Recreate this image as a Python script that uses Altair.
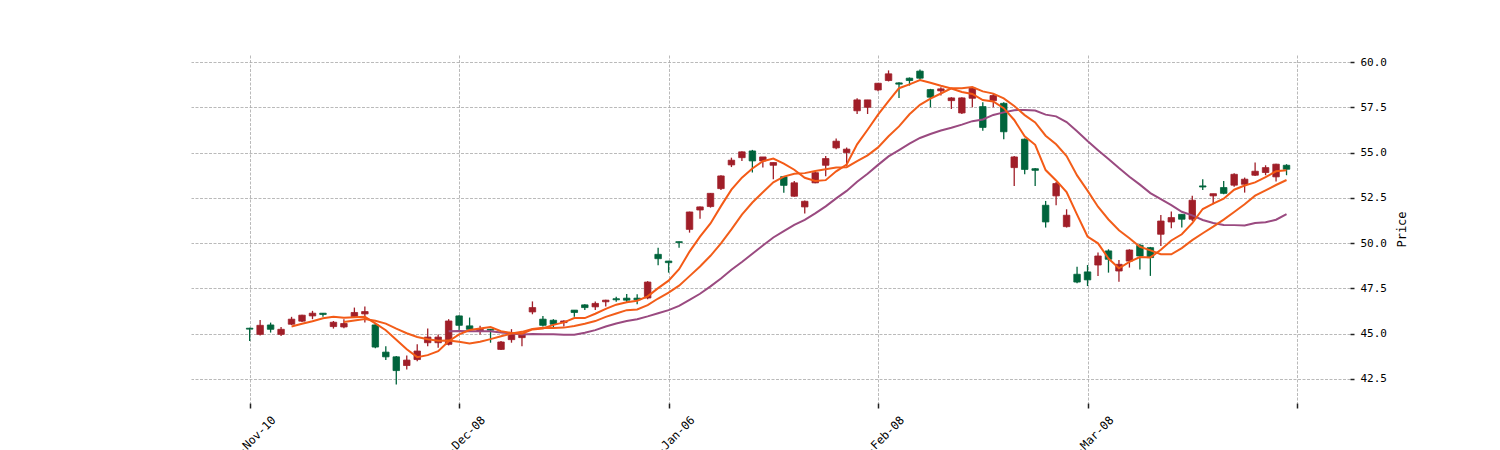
import altair as alt
import pandas as pd

opens = [45.30, 44.96, 45.48, 44.96, 45.52, 45.69, 45.98, 46.13, 45.39, 45.37,
         45.94, 46.09, 45.48, 43.98, 43.72, 43.24, 43.57, 44.50, 44.50, 44.41,
         45.98, 45.43, 45.13, 45.24, 44.13, 44.67, 44.78, 46.20, 45.80, 45.74,
         45.61, 46.30, 46.59, 46.48, 46.76, 46.93, 46.96, 46.96, 46.97, 49.38,
         49.01, 50.08, 50.76, 51.83, 52.02, 53.01, 54.32, 54.72, 55.09, 54.54,
         54.30, 53.67, 52.59, 52.00, 53.33, 54.30, 55.26, 55.00, 57.31, 57.50,
         58.46, 58.98, 58.85, 59.11, 59.50, 58.48, 58.41, 57.87, 57.19, 58.00,
         57.54, 57.87, 57.72, 54.17, 55.74, 54.11, 52.09, 52.61, 50.91, 48.28,
         48.41, 48.79, 49.57, 48.46, 49.01, 49.88, 49.75, 50.49, 51.17, 51.59,
         51.32, 53.16, 52.61, 53.07, 53.20, 53.25, 53.75, 53.90, 53.66, 54.30]
highs = [45.32, 45.76, 45.61, 45.37, 45.93, 46.04, 46.26, 46.14, 45.70, 45.80,
         46.44, 46.50, 45.55, 44.31, 43.76, 43.80, 44.41, 45.28, 44.96, 45.80,
         46.02, 45.89, 45.43, 45.26, 44.59, 45.25, 45.05, 46.78, 45.98, 45.80,
         45.74, 46.31, 46.63, 46.78, 46.87, 47.04, 47.19, 47.17, 47.90, 49.75,
         49.02, 50.09, 51.74, 52.02, 52.77, 53.75, 54.72, 55.07, 55.15, 54.76,
         54.45, 53.70, 53.43, 52.35, 53.93, 54.81, 55.78, 55.28, 58.00, 57.91,
         58.85, 59.54, 58.89, 59.15, 59.59, 58.52, 58.61, 58.06, 58.06, 58.61,
         57.78, 58.24, 57.78, 54.81, 55.78, 54.15, 52.33, 53.38, 51.87, 48.70,
         48.79, 49.48, 49.66, 49.07, 49.66, 49.97, 49.79, 51.56, 51.74, 51.59,
         52.61, 53.53, 52.73, 53.43, 53.86, 53.62, 54.45, 54.30, 54.39, 54.36]
lows = [44.60, 44.90, 45.06, 44.87, 45.48, 45.65, 45.80, 45.93, 45.28, 45.30,
        45.89, 45.61, 44.20, 43.54, 42.19, 43.02, 43.48, 44.31, 44.22, 44.35,
        45.20, 45.09, 44.96, 44.50, 44.10, 44.50, 44.31, 46.07, 45.39, 45.28,
        45.39, 45.93, 46.30, 46.31, 46.50, 46.76, 46.72, 46.63, 46.90, 48.78,
        48.37, 49.75, 50.58, 51.35, 51.96, 52.94, 54.20, 54.54, 53.90, 54.17,
        53.53, 52.78, 52.56, 51.63, 53.30, 53.70, 55.19, 54.26, 57.13, 57.13,
        58.39, 58.93, 58.02, 58.70, 59.04, 57.50, 58.15, 57.41, 57.13, 57.50,
        56.20, 57.50, 55.74, 53.15, 53.80, 53.15, 50.86, 52.09, 50.86, 47.78,
        47.63, 48.19, 48.37, 47.87, 48.65, 48.55, 48.19, 49.84, 50.82, 50.86,
        51.22, 52.94, 52.15, 52.70, 53.12, 52.79, 53.71, 53.75, 53.40, 53.75]
closes = [45.25, 45.46, 45.24, 45.24, 45.80, 46.02, 46.13, 46.06, 45.63, 45.56,
          46.17, 46.22, 44.26, 43.72, 42.96, 43.54, 44.04, 44.81, 44.81, 45.70,
          45.46, 45.24, 45.24, 45.19, 44.54, 45.00, 45.00, 46.44, 45.46, 45.52,
          45.70, 46.17, 46.44, 46.67, 46.85, 46.87, 46.85, 46.87, 47.85, 49.14,
          48.92, 50.03, 51.72, 52.00, 52.75, 53.71, 54.58, 55.04, 54.54, 54.76,
          54.45, 53.19, 53.33, 52.31, 53.89, 54.67, 55.63, 55.19, 57.91, 57.91,
          58.83, 59.35, 58.78, 58.98, 59.11, 58.06, 58.52, 58.02, 58.02, 58.56,
          56.39, 58.15, 56.15, 54.76, 54.07, 54.02, 51.17, 53.29, 51.54, 47.85,
          47.97, 49.29, 49.11, 48.83, 49.62, 49.29, 49.20, 51.22, 51.41, 51.32,
          52.37, 53.10, 52.73, 52.75, 53.80, 53.53, 53.97, 54.17, 54.36, 54.08]

tick_positions = [0, 20, 40, 60, 80, 100]
tick_labels = ["2020-Nov-10", "2020-Dec-08", "2021-Jan-06", "2021-Feb-08", "2021-Mar-08", ""]
y_ticks = [42.5, 45.0, 47.5, 50.0, 52.5, 55.0, 57.5, 60.0]

UP = "#a01e28"
DOWN = "#00643c"
MA_COLORS = {5: "#f45a16", 10: "#f25e1a", 20: "#9a4a80"}
FONT = "DejaVu Sans Mono"

df = pd.DataFrame({
    "i": list(range(len(closes))),
    "open": opens, "high": highs, "low": lows, "close": closes,
})

label_expr = "[" + ",".join("'%s'" % s for s in tick_labels) + "][round(datum.value / 20)]"

x_enc = alt.X(
    "i:Q",
    scale=alt.Scale(domain=[-5.6, 105.06], nice=False, zero=False, padding=0),
    axis=alt.Axis(
        values=tick_positions, labelExpr=label_expr, title=None,
        grid=True, gridDash=[3, 1.5], gridColor="#a8a8a8", gridWidth=0.8,
        domain=False, ticks=True, tickSize=5, tickWidth=1.5, tickColor="#222222",
        labelAngle=315, labelAlign="right", labelBaseline="top",
        labelOffset=20, labelPadding=6, labelFont=FONT, labelFontSize=11.5,
        labelColor="#000000", labelOverlap=False, labelFlush=False, labelBound=False,
    ),
)
y_scale = alt.Scale(domain=[41.17, 60.39], nice=False, zero=False)
y_axis = alt.Axis(
    orient="right", values=y_ticks, format=".1f", title="Price",
    grid=True, gridDash=[3, 1.5], gridColor="#a8a8a8", gridWidth=0.8,
    domain=False, tickSize=4, tickWidth=1.5, tickColor="#222222",
    labelPadding=6, labelFont=FONT, labelFontSize=11, labelColor="#000000",
    titleFont=FONT, titleFontSize=12, titleFontWeight="normal", titleColor="#000000",
    titleAngle=270, titlePadding=22,
)

base = alt.Chart(df).transform_calculate(
    dir="datum.close >= datum.open ? 'up' : 'down'"
)
color_scale = alt.Scale(domain=["up", "down"], range=[UP, DOWN])

wicks = base.mark_rule(strokeWidth=1.3).encode(
    x=x_enc,
    y=alt.Y("low:Q", scale=y_scale, axis=y_axis),
    y2="high:Q",
    color=alt.Color("dir:N", scale=color_scale, legend=None),
)
bodies = base.mark_bar(width=6.5, strokeWidth=0.8).encode(
    x=alt.X("i:Q"),
    y=alt.Y("open:Q"),
    y2="close:Q",
    fill=alt.Fill("dir:N", scale=color_scale, legend=None),
    stroke=alt.Stroke("dir:N", scale=color_scale, legend=None),
)

layers = [wicks, bodies]
for k in (20, 10, 5):
    ma = alt.Chart(df).transform_window(
        ma="mean(close)", n="count()", frame=[-(k - 1), 0],
        sort=[alt.SortField("i")],
    ).transform_filter(
        "datum.n == %d" % k
    ).mark_line(color=MA_COLORS[k], strokeWidth=2).encode(
        x=alt.X("i:Q"),
        y=alt.Y("ma:Q"),
    )
    layers.append(ma)

chart = alt.layer(*layers).properties(
    width=1159, height=348,
    background="white",
    autosize=alt.AutoSizeParams(type="none"),
    padding={"left": 183, "top": 47, "right": 120, "bottom": 60},
).configure_view(strokeWidth=0)

chart.save("out.html", embed_options={"renderer": "svg", "actions": False})
